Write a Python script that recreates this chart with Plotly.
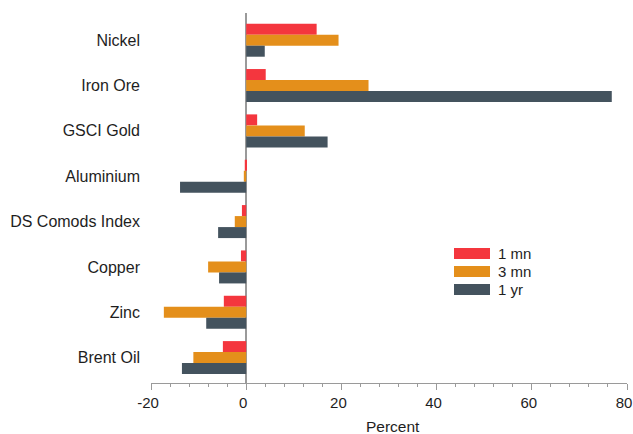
import plotly.graph_objects as go

# Commodity price changes, percent
commodities = ["Nickel", "Iron Ore", "GSCI Gold", "Aluminium",
               "DS Comods Index", "Copper", "Zinc", "Brent Oil"]
change_1mn = [14.8, 4.1, 2.3, -0.3, -0.9, -1.1, -4.7, -4.9]
change_3mn = [19.4, 25.7, 12.3, -0.5, -2.4, -8.0, -17.3, -11.1]
change_1yr = [3.9, 76.8, 17.1, -13.9, -5.9, -5.7, -8.4, -13.5]

series_names = ["1 mn", "3 mn", "1 yr"]
series_colors = ["#F4363E", "#E48F1B", "#44535E"]
series_values = [change_1mn, change_3mn, change_1yr]

x_tickvals = [-20, 0, 20, 40, 60, 80]
x_ticktext = ["-20", "0", "20", "40", "60", "80"]

FONT = "Liberation Sans, Arial, sans-serif"
AXIS_GREY = "#9A9A9A"
TEXT = "#1E1E1E"

W, H = 633, 434
M = dict(l=151, r=6, t=13, b=51)

fig = go.Figure()
for name, color, vals in zip(series_names, series_colors, series_values):
    fig.add_trace(go.Bar(
        y=commodities, x=vals, name=name, orientation="h",
        marker=dict(color=color, line=dict(width=0)),
        showlegend=False,
    ))

# Pixel placement -> paper coords for legend and axis title
pw, ph = W - M["l"] - M["r"], H - M["t"] - M["b"]
def px_to_paper(x, y):
    return (x - M["l"]) / pw, 1 - (y - M["t"]) / ph

shapes, annotations = [], []
for i, (name, color) in enumerate(zip(series_names, series_colors)):
    top = 248 + 18 * i
    x0, y0 = px_to_paper(454, top)
    x1, y1 = px_to_paper(490, top + 11)
    shapes.append(dict(type="rect", xref="paper", yref="paper",
                       x0=x0, x1=x1, y0=y1, y1=y0,
                       fillcolor=color, line=dict(width=0)))
    tx, ty = px_to_paper(496, top + 5.5)
    annotations.append(dict(xref="paper", yref="paper", x=tx, y=ty,
                            text=name, showarrow=False, xanchor="left",
                            yanchor="middle",
                            font=dict(family=FONT, size=15, color=TEXT)))

# x-axis title
tx, ty = px_to_paper(393, 426)
annotations.append(dict(xref="paper", yref="paper", x=tx, y=ty,
                        text="Percent", showarrow=False, xanchor="center",
                        yanchor="middle", borderpad=0,
                        font=dict(family=FONT, size=15.5, color=TEXT)))

fig.update_layout(
    width=W, height=H, margin=M,
    paper_bgcolor="white", plot_bgcolor="white",
    barmode="group", bargap=0.272, bargroupgap=0,
    font=dict(family=FONT, size=15, color=TEXT),
    shapes=shapes, annotations=annotations,
    xaxis=dict(
        range=[-20, 80], tickvals=x_tickvals, ticktext=x_ticktext,
        automargin=False,
        showgrid=False, zeroline=True, zerolinecolor=AXIS_GREY,
        zerolinewidth=1.5,
        showline=True, linecolor=AXIS_GREY, linewidth=1,
        ticks="outside", ticklen=6, tickcolor=AXIS_GREY, tickwidth=1,
        minor=dict(dtick=4, tick0=0, ticks="outside", ticklen=3,
                   tickcolor=AXIS_GREY, tickwidth=1, showgrid=False),
        tickfont=dict(family=FONT, size=15, color=TEXT),
        ticklabelstandoff=0, ticklabelshift=-3, ticklabeloverflow="allow",
    ),
    yaxis=dict(
        categoryorder="array", categoryarray=commodities,
        range=[7.56, -0.6], showgrid=False, showline=False,
        automargin=False,
        ticks="", ticklabelstandoff=10,
        tickfont=dict(family=FONT, size=16, color=TEXT),
    ),
)

fig.write_html("out.html")
